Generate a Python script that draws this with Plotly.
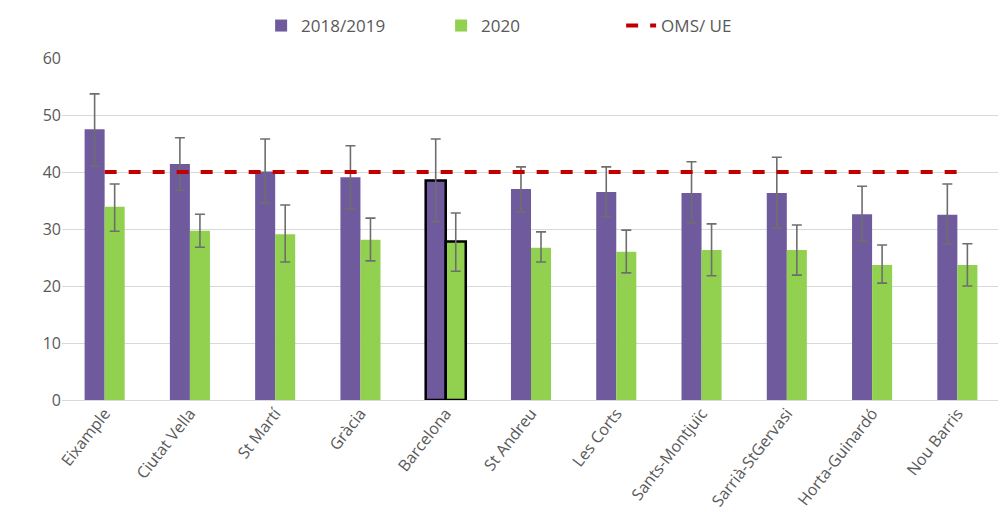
import plotly.graph_objects as go

categories = ["Eixample", "Ciutat Vella", "St Martí", "Gràcia", "Barcelona", "St Andreu",
              "Les Corts", "Sants-Montjuïc", "Sarrià-StGervasi", "Horta-Guinardó", "Nou Barris"]
v2019 = [47.5, 41.4, 40.1, 39.1, 38.5, 37.0, 36.5, 36.3, 36.3, 32.6, 32.5]
v2019_hi = [53.7, 46.0, 45.8, 44.6, 45.8, 40.9, 40.9, 41.8, 42.6, 37.5, 37.9]
v2019_lo = [41.0, 36.8, 34.6, 33.5, 31.3, 33.0, 32.1, 31.1, 30.2, 27.9, 27.4]
v2020 = [33.9, 29.7, 29.1, 28.1, 27.8, 26.7, 26.0, 26.3, 26.3, 23.7, 23.7]
v2020_hi = [37.9, 32.6, 34.2, 31.9, 32.8, 29.5, 29.8, 30.9, 30.7, 27.2, 27.4]
v2020_lo = [29.6, 26.8, 24.2, 24.4, 22.6, 24.2, 22.3, 21.8, 21.9, 20.5, 20.0]
limit = [40] * len(categories)
highlight = "Barcelona"

purple = "#705a9e"
green = "#92d050"
err_col = "#6e6e6e"

line_w = [2.5 if c == highlight else 0 for c in categories]

fig = go.Figure()
fig.add_trace(go.Bar(
    x=categories, y=v2019, name="2018/2019",
    marker=dict(color=purple, line=dict(color="black", width=line_w)),
    error_y=dict(type="data", symmetric=False,
                 array=[h - v for h, v in zip(v2019_hi, v2019)],
                 arrayminus=[v - l for l, v in zip(v2019_lo, v2019)],
                 color=err_col, thickness=1.6, width=5),
))
fig.add_trace(go.Bar(
    x=categories, y=v2020, name="2020",
    marker=dict(color=green, line=dict(color="black", width=line_w)),
    error_y=dict(type="data", symmetric=False,
                 array=[h - v for h, v in zip(v2020_hi, v2020)],
                 arrayminus=[v - l for l, v in zip(v2020_lo, v2020)],
                 color=err_col, thickness=1.6, width=5),
))
fig.add_trace(go.Scatter(
    x=categories, y=limit, name="OMS/ UE", mode="lines",
    line=dict(color="#c00000", width=4, dash="dash"),
))

fig.update_layout(
    width=1006, height=530,
    margin=dict(l=54, r=14, t=50, b=138, autoexpand=False),
    paper_bgcolor="white", plot_bgcolor="white",
    font=dict(family="Open Sans, sans-serif", color="#595959", size=15),
    barmode="group", bargap=0.53, bargroupgap=0,
    legend=dict(orientation="h", x=0.52, xanchor="center", xref="container",
                y=1.0, yanchor="top", yref="container",
                entrywidth=135, entrywidthmode="pixels",
                font=dict(size=17, color="#595959"), traceorder="normal"),
    showlegend=True,
)
fig.update_yaxes(range=[0, 60], dtick=10, showgrid=True, gridcolor="#d9d9d9", gridwidth=1,
                 zeroline=True, zerolinecolor="#d9d9d9", zerolinewidth=1,
                 tickfont=dict(size=16, color="#595959"), ticks="", ticklen=0)
fig.update_xaxes(tickangle=-52, tickfont=dict(size=16, color="#595959"), showline=False,
                 showgrid=False, automargin=False)

fig.write_html("out.html")
